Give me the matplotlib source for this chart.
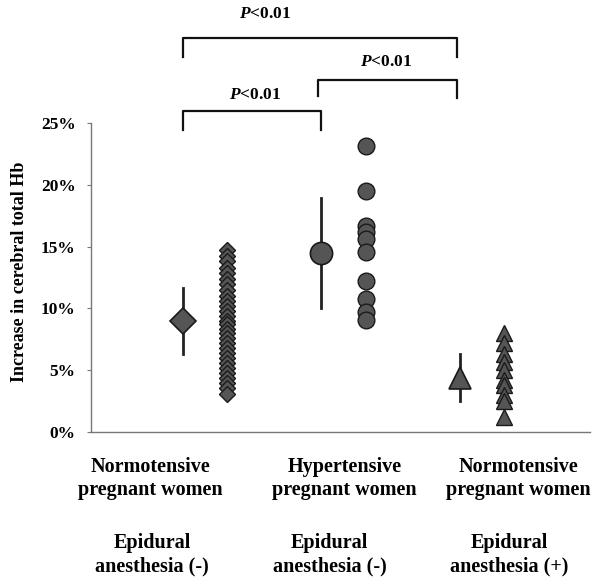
import numpy as np
from matplotlib import pyplot as plt

# group means and spread
means = [9.0, 14.5, 4.4]
sds = [2.65, 4.45, 1.9]

# individual values
normo_no_epi = [14.7, 14.2, 13.8, 13.3, 12.9, 12.4, 12.0, 11.5, 11.0, 10.6,
                10.2, 9.8, 9.4, 9.0, 8.7, 8.3, 8.0, 7.6, 7.2, 6.8, 6.4, 6.0,
                5.6, 5.2, 4.8, 4.4, 4.0, 3.6, 3.1]
hyper_no_epi = [23.1, 19.5, 16.7, 16.2, 15.6, 14.6, 12.2, 10.8, 9.7, 9.1]
normo_epi = [8.0, 7.2, 6.3, 5.7, 5.0, 4.2, 3.8, 3.0, 2.5, 1.2]

group_labels = ["Normotensive\npregnant women", "Hypertensive\npregnant women",
                "Normotensive\npregnant women"]
epi_labels = ["Epidural\nanesthesia (-)", "Epidural\nanesthesia (-)",
              "Epidural\nanesthesia (+)"]
yticks = [0, 5, 10, 15, 20, 25]

plt.rcParams['font.family'] = ['Liberation Serif', 'DejaVu Serif']
plt.rcParams['font.weight'] = 'bold'
plt.rcParams['mathtext.fontset'] = 'custom'
plt.rcParams['mathtext.bfit'] = 'Liberation Serif:italic:bold'
plt.rcParams['mathtext.it'] = 'Liberation Serif:italic:bold'
plt.rcParams['mathtext.rm'] = 'Liberation Serif:bold'

fig = plt.figure(figsize=(5.98, 5.78), dpi=100)
ax = fig.add_axes([0.1522, 0.2526, 0.834, 0.5346])

fill = '#555555'
edge = '#1a1a1a'
pos = [1, 2, 3]
off = 0.32
mean_markers = ['D', 'o', '^']
mean_sizes = [13, 16, 16]

for i in range(3):
    ax.plot([pos[i], pos[i]], [means[i] - sds[i], means[i] + sds[i]],
            color='#222222', lw=2, zorder=2)
    ax.plot(pos[i], means[i], marker=mean_markers[i], ms=mean_sizes[i],
            mfc=fill, mec=edge, mew=1.2, zorder=3)

ax.plot([pos[0] + off] * len(normo_no_epi), normo_no_epi, 'D', ms=8.5,
        mfc=fill, mec=edge, mew=1, ls='none')
ax.plot([pos[1] + off] * len(hyper_no_epi), hyper_no_epi, 'o', ms=12,
        mfc=fill, mec=edge, mew=1, ls='none')
ax.plot([pos[2] + off] * len(normo_epi), normo_epi, '^', ms=12,
        mfc=fill, mec=edge, mew=1, ls='none')

ax.set_xlim(0.336, 3.94)
ax.set_ylim(0, 25)
ax.set_yticks(yticks)
ax.set_yticklabels([f"{t}%" for t in yticks], fontsize=12.5, fontweight='bold')
ax.set_xticks([])
ax.tick_params(axis='y', length=3, width=0.8, color='#777777', pad=8)
for s in ['top', 'right']:
    ax.spines[s].set_visible(False)
for s in ['left', 'bottom']:
    ax.spines[s].set_color('#777777')
    ax.spines[s].set_linewidth(1.0)

# significance brackets
def bracket(x1, x2, ytop, yl, yr, tx, ty):
    ax.plot([x1, x1, x2, x2], [yl, ytop, ytop, yr], color='#111111', lw=1.6,
            clip_on=False)
    ax.text(tx, ty, r"$\mathit{P}$<0.01", ha='center', va='center',
            fontsize=12.5, fontweight='bold')

bracket(1.0, 2.98, 31.9, 30.3, 30.3, 1.59, 33.8)
bracket(1.975, 2.98, 28.5, 27.2, 27.0, 2.47, 29.9)
bracket(1.0, 2.0, 26.0, 24.4, 24.4, 1.52, 27.3)

lab_x = [0.762, 2.17, 3.425]
epi_x = [0.776, 2.06, 3.36]
for i in range(3):
    ax.text(lab_x[i], -3.8, group_labels[i], ha='center', va='center',
            fontsize=14.5, fontweight='bold', linespacing=1.2, clip_on=False)
    ax.text(epi_x[i], -9.95, epi_labels[i], ha='center', va='center',
            fontsize=14.5, fontweight='bold', linespacing=1.2, clip_on=False)

fig.text(20 / 598, 1 - 272 / 578, "Increase in cerebral total Hb",
         rotation=90, ha='center', va='center', fontsize=13, fontweight='bold')

plt.savefig("out.png", dpi=100)
